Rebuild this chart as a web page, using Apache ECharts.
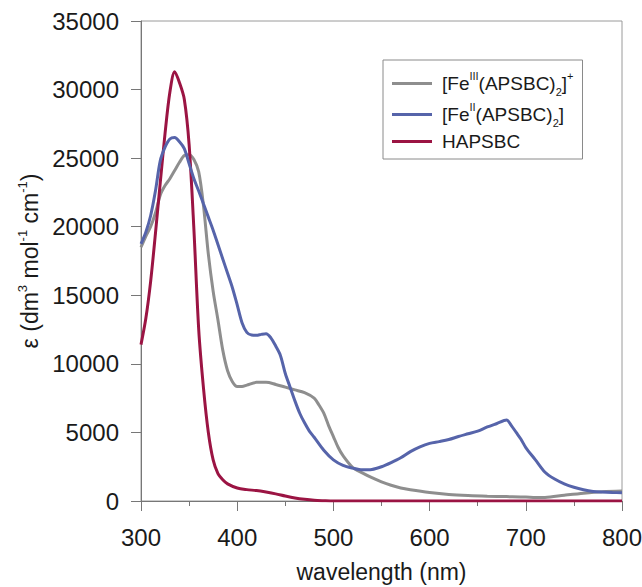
<!DOCTYPE html>
<html>
<head>
<meta charset="utf-8">
<script src="https://cdn.jsdelivr.net/npm/echarts@6/dist/echarts.min.js"></script>
<style>
html,body{margin:0;padding:0;background:#fff;}
#chart{width:642px;height:587px;}
</style>
</head>
<body>
<div id="chart"></div>
<script>
// ---- data ----
const seriesNames = ['FeIII', 'FeII', 'HAPSBC'];

const wlFeIII = [300,305,310,315,320,325,330,335,340,345,350,355,360,365,370,375,380,385,390,395,400,405,410,420,430,440,450,460,470,480,485,490,495,500,505,510,520,530,540,550,560,570,580,600,620,640,660,680,700,710,720,740,760,780,800];
const epsFeIII = [18500,19300,20000,21000,22300,23000,23500,24100,24700,25200,25250,24900,24000,21500,18000,15300,13200,11000,9500,8700,8350,8350,8450,8650,8650,8500,8300,8100,7900,7500,7000,6400,5500,4700,3900,3300,2450,2050,1700,1400,1150,950,820,620,480,400,350,320,290,250,260,420,570,680,730];

const wlFeII = [300,305,310,315,320,325,330,335,340,345,350,355,360,365,370,375,380,385,390,395,400,405,410,415,420,425,430,435,440,445,450,455,460,465,470,475,480,490,500,510,520,530,540,550,560,570,580,590,600,610,620,630,640,650,660,670,680,685,690,695,700,710,720,730,740,750,760,770,780,790,800];
const epsFeII = [18750,19600,20800,22600,24800,25800,26400,26500,26200,25700,24600,23500,22600,21650,20700,19750,18700,17650,16600,15550,14300,13000,12300,12100,12080,12150,12200,11900,11300,10600,9300,8300,7300,6400,5700,5100,4650,3700,3000,2600,2400,2270,2300,2500,2800,3150,3600,3950,4200,4330,4480,4700,4900,5100,5400,5650,5900,5500,5000,4500,3900,3000,2100,1600,1250,1000,820,700,650,620,600];

const wlHAPSBC = [300,305,310,315,320,325,330,335,340,345,350,355,360,365,370,375,380,385,390,400,410,420,430,440,450,460,470,480,490,500,550,600,650,700,750,800];
const epsHAPSBC = [11400,13300,16000,19500,23200,26800,29800,31300,30500,29300,26000,19800,12500,8200,5000,3000,2000,1550,1250,950,830,760,650,520,360,220,120,50,20,0,0,0,0,0,0,0];

const xTicks = [300,400,500,600,700,800];
const yTicks = [0,5000,10000,15000,20000,25000,30000,35000];

const legendLabels = {
  FeIII: '{g|}{n|[Fe}{sup|III}{n|(APSBC)}{sub|2}{n|]}{sup|+}',
  FeII: '{g|}{n|[Fe}{sup|II}{n|(APSBC)}{sub|2}{n|]}',
  HAPSBC: '{g|}{n|HAPSBC}'
};
const colors = { FeIII: '#8e8e8e', FeII: '#5664aa', HAPSBC: '#9b1443' };

const zip = (xs, ys) => xs.map((x, i) => [x, ys[i]]);
const FONT = '"Liberation Sans", Arial, sans-serif';

const chart = echarts.init(document.getElementById('chart'), null, { renderer: 'svg' });

const mkSeries = (name, xs, ys) => ({
  name: name,
  type: 'line',
  data: zip(xs, ys),
  showSymbol: false,
  symbol: 'none',
  smooth: 0.3,
  lineStyle: { color: colors[name], width: 3 },
  itemStyle: { color: colors[name] },
  z: name === 'HAPSBC' ? 3 : (name === 'FeII' ? 4 : 2)
});

chart.setOption({
  animation: false,
  backgroundColor: '#fff',
  grid: { left: 141, right: 20, top: 21, bottom: 86, show: true, borderColor: '#9a9a9a', borderWidth: 1, outerBoundsMode: 'none', containLabel: false },
  legend: {
    data: seriesNames,
    orient: 'vertical',
    left: 383,
    top: 60,
    padding: [10, 9, 8, 9],
    itemGap: 4,
    itemWidth: 40,
    itemHeight: 3,
    icon: 'rect',
    borderColor: '#8a8a8a',
    borderWidth: 1,
    backgroundColor: '#fff',
    formatter: name => legendLabels[name],
    textStyle: {
      fontFamily: FONT,
      color: '#1a1a1a',
      rich: {
        g: { width: 5 },
        n: { fontSize: 19, fontFamily: FONT, color: '#1a1a1a', lineHeight: 27 },
        sup: { fontSize: 11, fontFamily: FONT, color: '#1a1a1a', verticalAlign: 'top', lineHeight: 12 },
        sub: { fontSize: 11, fontFamily: FONT, color: '#1a1a1a', verticalAlign: 'bottom', lineHeight: 10 }
      }
    }
  },
  xAxis: {
    type: 'value',
    min: 300,
    max: 800,
    interval: 100,
    name: 'wavelength (nm)',
    nameLocation: 'middle',
    nameGap: 59,
    nameTextStyle: { fontFamily: FONT, fontSize: 23, color: '#1a1a1a', lineHeight: 24 },
    axisLine: { show: true, lineStyle: { color: '#777', width: 1 } },
    axisTick: { show: true, inside: false, length: 10, lineStyle: { color: '#777' } },
    minorTick: { show: true, splitNumber: 2, length: 5, lineStyle: { color: '#777' } },
    axisLabel: {
      fontFamily: FONT, fontSize: 24, color: '#1a1a1a', margin: 24,
      formatter: v => (xTicks.indexOf(v) >= 0 ? String(v) : '')
    },
    splitLine: { show: false }
  },
  yAxis: {
    type: 'value',
    min: 0,
    max: 35000,
    interval: 5000,
    name: '{n|ε (dm}{sup|3}{n| mol}{sup|-1}{n| cm}{sup|-1}{n|)}',
    nameLocation: 'middle',
    nameGap: 92,
    nameRotate: 90,
    nameTextStyle: {
      fontFamily: FONT, fontSize: 23, color: '#1a1a1a',
      rich: {
        n: { fontSize: 23, fontFamily: FONT, color: '#1a1a1a', lineHeight: 28 },
        sup: { fontSize: 13, fontFamily: FONT, color: '#1a1a1a', verticalAlign: 'top', lineHeight: 14 }
      }
    },
    axisLine: { show: true, lineStyle: { color: '#777', width: 1 } },
    axisTick: { show: true, inside: false, length: 10, lineStyle: { color: '#777' } },
    axisLabel: {
      fontFamily: FONT, fontSize: 24, color: '#1a1a1a', margin: 22,
      formatter: v => (yTicks.indexOf(v) >= 0 ? String(v) : '')
    },
    splitLine: { show: false }
  },
  series: [
    mkSeries('FeIII', wlFeIII, epsFeIII),
    mkSeries('FeII', wlFeII, epsFeII),
    mkSeries('HAPSBC', wlHAPSBC, epsHAPSBC)
  ]
});
</script>
</body>
</html>
